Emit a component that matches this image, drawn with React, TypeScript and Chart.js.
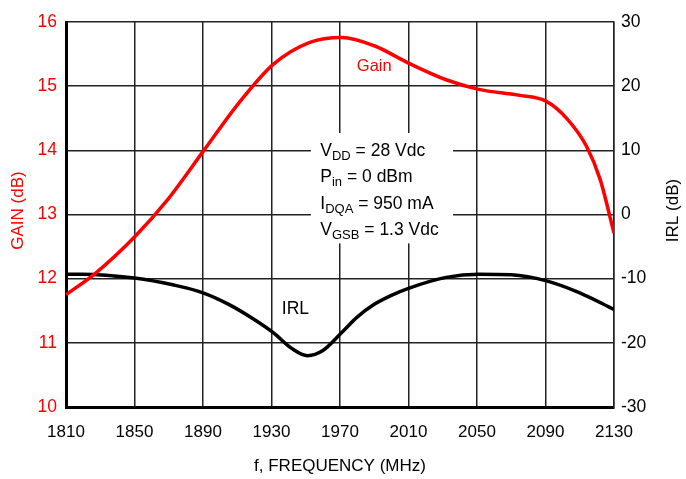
import React, { useEffect, useRef } from "react";
import { Chart, registerables } from "chart.js";

Chart.register(...registerables);

const gainFreq = [1810, 1827, 1850, 1869, 1890, 1911, 1931, 1952, 1971, 1990, 2010, 2032, 2051, 2074, 2090, 2103, 2114, 2122, 2130];
const gainValues = [11.75, 12.08, 12.65, 13.22, 13.98, 14.74, 15.34, 15.68, 15.76, 15.63, 15.36, 15.1, 14.95, 14.86, 14.77, 14.48, 14.06, 13.54, 12.71];

const irlFreq = [1810, 1819, 1850, 1873, 1890, 1905, 1919, 1931, 1942, 1951, 1960, 1971, 1980, 1990, 2000, 2010, 2032, 2051, 2070, 2090, 2110, 2130];
const irlValues = [-9.3, -9.3, -9.9, -11.0, -12.2, -14.0, -16.2, -18.4, -20.9, -22.0, -21.2, -18.4, -16.0, -14.0, -12.6, -11.5, -9.8, -9.3, -9.4, -10.3, -12.2, -14.8];

const xTicks = [1810, 1850, 1890, 1930, 1970, 2010, 2050, 2090, 2130];
const gainTicks = [10, 11, 12, 13, 14, 15, 16];
const irlTicks = [-30, -20, -10, 0, 10, 20, 30];

const conditions: { t: string; sub?: boolean }[][] = [
  [{ t: "V" }, { t: "DD", sub: true }, { t: " = 28 Vdc" }],
  [{ t: "P" }, { t: "in", sub: true }, { t: " = 0 dBm" }],
  [{ t: "I" }, { t: "DQA", sub: true }, { t: " = 950 mA" }],
  [{ t: "V" }, { t: "GSB", sub: true }, { t: " = 1.3 Vdc" }],
];

const FONT = "'Liberation Sans', Arial, sans-serif";
const RED = "#ff0000";

export default function App() {
  const ref = useRef<HTMLCanvasElement>(null);
  useEffect(() => {
    if (!ref.current) return;
    const annot = {
      id: "annot",
      beforeDatasetsDraw(chart: any) {
        const ctx = chart.ctx;
        const xs = chart.scales.x;
        const ys = chart.scales.y;
        const bx0 = xs.getPixelForValue(1953);
        const bx1 = xs.getPixelForValue(2036);
        const by0 = ys.getPixelForValue(14.27);
        const by1 = ys.getPixelForValue(12.55);
        ctx.save();
        ctx.fillStyle = "#fff";
        ctx.fillRect(bx0, by0, bx1 - bx0, by1 - by0);
        ctx.fillStyle = "#000";
        ctx.textBaseline = "alphabetic";
        const left = xs.getPixelForValue(1958.5);
        const base0 = ys.getPixelForValue(13.91);
        conditions.forEach((line, i) => {
          let x = left;
          const base = base0 + i * 26.3;
          line.forEach((p) => {
            ctx.font = p.sub ? `13px ${FONT}` : `17.5px ${FONT}`;
            ctx.fillText(p.t, x, base + (p.sub ? 4 : 0));
            x += ctx.measureText(p.t).width;
          });
        });
        ctx.textAlign = "center";
        ctx.textBaseline = "middle";
        ctx.font = `16.5px ${FONT}`;
        ctx.fillStyle = RED;
        ctx.fillText("Gain", xs.getPixelForValue(1990), ys.getPixelForValue(15.3));
        ctx.font = `17.5px ${FONT}`;
        ctx.fillStyle = "#000";
        ctx.fillText("IRL", xs.getPixelForValue(1944), ys.getPixelForValue(11.52));
        ctx.restore();
      },
      afterDraw(chart: any) {
        const ctx = chart.ctx;
        const ca = chart.chartArea;
        const cy = (ca.top + ca.bottom) / 2 - 4;
        ctx.save();
        ctx.font = `17px ${FONT}`;
        ctx.textAlign = "center";
        ctx.textBaseline = "middle";
        ctx.fillStyle = RED;
        ctx.translate(ca.left - 48, cy);
        ctx.rotate(-Math.PI / 2);
        ctx.fillText("GAIN (dB)", 0, 0);
        ctx.restore();
        ctx.save();
        ctx.font = `17px ${FONT}`;
        ctx.textAlign = "center";
        ctx.textBaseline = "middle";
        ctx.fillStyle = "#000";
        ctx.translate(ca.right + 59, cy);
        ctx.rotate(-Math.PI / 2);
        ctx.fillText("IRL (dB)", 0, 0);
        ctx.restore();
      },
    };
    const chart = new Chart(ref.current, {
      type: "line",
      data: {
        datasets: [
          {
            label: "Gain",
            data: gainFreq.map((f, i) => ({ x: f, y: gainValues[i] })),
            borderColor: RED,
            borderWidth: 3.5,
            pointRadius: 0,
            cubicInterpolationMode: "monotone",
            yAxisID: "y",
          },
          {
            label: "IRL",
            data: irlFreq.map((f, i) => ({ x: f, y: irlValues[i] })),
            borderColor: "#000",
            borderWidth: 3.5,
            pointRadius: 0,
            cubicInterpolationMode: "monotone",
            yAxisID: "y2",
          },
        ],
      },
      options: {
        animation: false,
        responsive: false,
        maintainAspectRatio: false,
        layout: { padding: { top: 22, left: 0, right: 0, bottom: 0 } },
        plugins: { legend: { display: false }, tooltip: { enabled: false } },
        scales: {
          x: {
            type: "linear",
            min: 1810,
            max: 2130,
            afterBuildTicks: (s: any) => {
              s.ticks = xTicks.map((v) => ({ value: v }));
            },
            afterFit: (s: any) => {
              s.height = 72;
            },
            ticks: { color: "#000", font: { family: FONT, size: 17 }, padding: 15, maxRotation: 0, callback: (v: any) => String(v) },
            grid: { color: "#222", lineWidth: 1.5, drawTicks: false },
            border: { color: "#000", width: 3 },
            title: { display: true, text: "f, FREQUENCY (MHz)", color: "#000", font: { family: FONT, size: 17 }, padding: { top: 6, bottom: 2 } },
          },
          y: {
            position: "left",
            min: 10,
            max: 16,
            afterBuildTicks: (s: any) => {
              s.ticks = gainTicks.map((v) => ({ value: v }));
            },
            afterFit: (s: any) => {
              s.width = 66;
            },
            ticks: { color: RED, font: { family: FONT, size: 17.5 }, padding: 9, callback: (v: any) => String(v) },
            grid: { color: "#222", lineWidth: 1.5, drawTicks: false },
            border: { color: "#000", width: 3 },
          },
          y2: {
            position: "right",
            min: -30,
            max: 30,
            afterBuildTicks: (s: any) => {
              s.ticks = irlTicks.map((v) => ({ value: v }));
            },
            afterFit: (s: any) => {
              s.width = 72;
            },
            ticks: { color: "#000", font: { family: FONT, size: 17.5 }, padding: 7, callback: (v: any) => String(v) },
            grid: { drawOnChartArea: false, drawTicks: false },
            border: { color: "#222", width: 1.5 },
          },
        },
      },
      plugins: [annot],
    } as any);
    return () => chart.destroy();
  }, []);
  return (
    <div style={{ position: "absolute", left: 0, top: 0, width: 686, height: 479, background: "#fff" }}>
      <canvas ref={ref} width={686} height={479} style={{ display: "block" }} />
    </div>
  );
}
